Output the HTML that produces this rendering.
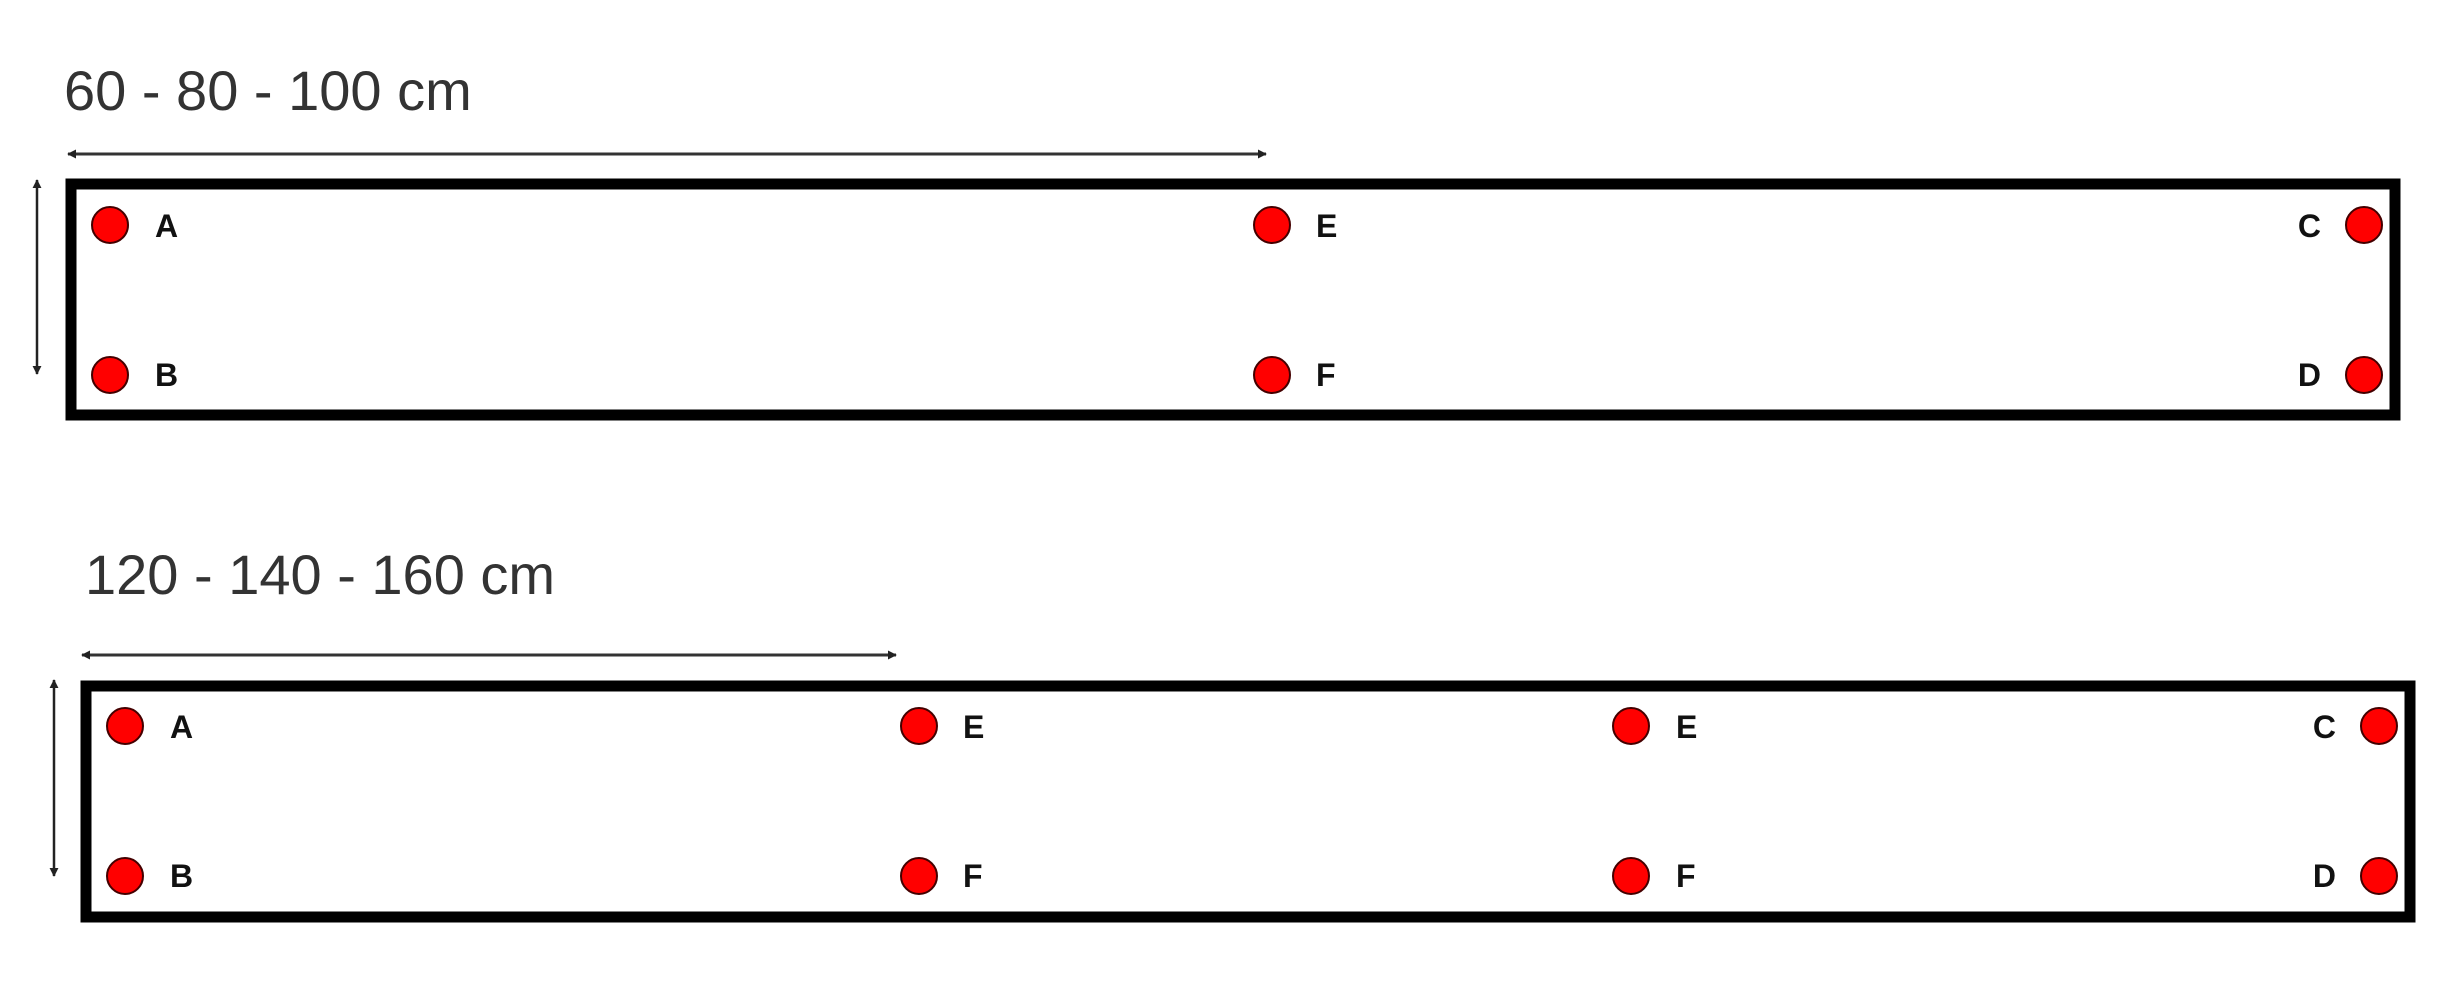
<!DOCTYPE html>
<html><head><meta charset="utf-8"><style>html,body{margin:0;padding:0;background:#fff}svg{display:block}</style></head>
<body>
<svg width="2459" height="1000" viewBox="0 0 2459 1000" xmlns="http://www.w3.org/2000/svg">
<defs>
<marker id="ar" viewBox="0 0 10 10" refX="9" refY="5" markerWidth="9" markerHeight="9" markerUnits="userSpaceOnUse" orient="auto-start-reverse"><path d="M0,0 L10,5 L0,10 z" fill="#222"/></marker>
</defs>
<g font-family="Liberation Sans, sans-serif">
<text x="64" y="110" font-size="56" fill="#333">60 - 80 - 100 cm</text>
<line x1="68" y1="154" x2="1266" y2="154" stroke="#333" stroke-width="3" marker-start="url(#ar)" marker-end="url(#ar)"/>
<line x1="37" y1="180" x2="37" y2="374" stroke="#222" stroke-width="2.5" marker-start="url(#ar)" marker-end="url(#ar)"/>
<rect x="71" y="184" width="2324" height="231" fill="none" stroke="#000" stroke-width="11"/>
<g fill="#f00" stroke="#400" stroke-width="2">
<circle cx="110" cy="225" r="18"/><circle cx="110" cy="375" r="18"/>
<circle cx="1272" cy="225" r="18"/><circle cx="1272" cy="375" r="18"/>
<circle cx="2364" cy="225" r="18"/><circle cx="2364" cy="375" r="18"/>
</g>
<g font-size="32" font-weight="bold" fill="#111">
<text x="155" y="237">A</text><text x="155" y="386">B</text>
<text x="1316" y="237">E</text><text x="1316" y="386">F</text>
<text x="2321" y="237" text-anchor="end">C</text><text x="2321" y="386" text-anchor="end">D</text>
</g>

<text x="85" y="594" font-size="56" fill="#333">120 - 140 - 160 cm</text>
<line x1="82" y1="655" x2="896" y2="655" stroke="#333" stroke-width="3" marker-start="url(#ar)" marker-end="url(#ar)"/>
<line x1="54" y1="680" x2="54" y2="876" stroke="#222" stroke-width="2.5" marker-start="url(#ar)" marker-end="url(#ar)"/>
<rect x="86" y="686" width="2324" height="231" fill="none" stroke="#000" stroke-width="11"/>
<g fill="#f00" stroke="#400" stroke-width="2">
<circle cx="125" cy="726" r="18"/><circle cx="125" cy="876" r="18"/>
<circle cx="919" cy="726" r="18"/><circle cx="919" cy="876" r="18"/>
<circle cx="1631" cy="726" r="18"/><circle cx="1631" cy="876" r="18"/>
<circle cx="2379" cy="726" r="18"/><circle cx="2379" cy="876" r="18"/>
</g>
<g font-size="32" font-weight="bold" fill="#111">
<text x="170" y="738">A</text><text x="170" y="887">B</text>
<text x="963" y="738">E</text><text x="963" y="887">F</text>
<text x="1676" y="738">E</text><text x="1676" y="887">F</text>
<text x="2336" y="738" text-anchor="end">C</text><text x="2336" y="887" text-anchor="end">D</text>
</g>
</g>
</svg>
</body></html>
